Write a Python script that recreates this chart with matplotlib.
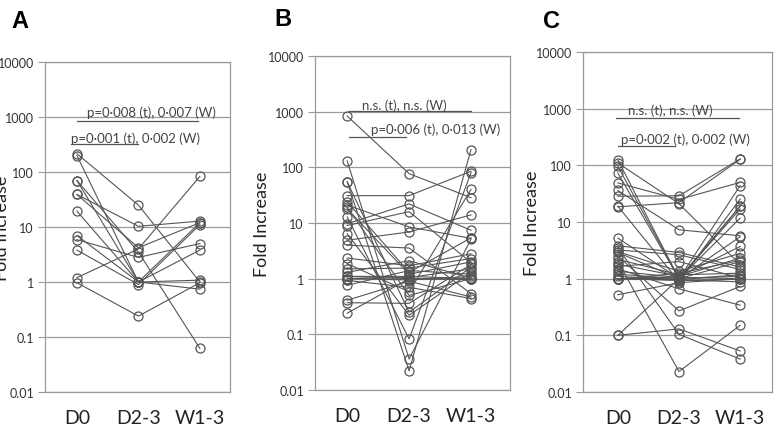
import numpy as np
import matplotlib
matplotlib.use("Agg")
import matplotlib.pyplot as plt

plt.rcParams['font.family'] = ['Lato', 'DejaVu Sans']

categories = ['D0', 'D2-3', 'W1-3']
yticks = [0.01, 0.1, 1, 10, 100, 1000, 10000]
ytick_labels = ['0.01', '0.1', '1', '10', '100', '1000', '10000']

# panel A: one row per subject -> D0, D2-3, W1-3
a_d0 = [215, 198, 70, 70, 39, 39, 19.4, 7.0, 5.9, 3.8, 1.2, 0.97]
a_d23 = [25, 1.0, 1.0, 3.5, 10.3, 4.2, 1.0, 1.0, 2.8, 0.9, 4.0, 0.24]
a_w13 = [1.0, 12, 1.08, 0.062, 12.8, 12, 3.8, 0.74, 5.0, 11, 83, 0.97]

# panel B
b_d0 = [835, 130, 55, 55, 31, 24, 21, 19, 18, 12.8, 9.7, 9, 6.4, 4.9,
        4.0, 2.35, 1.86, 1.5, 1.3, 1.1, 1.1, 1.0, 1.0, 0.93, 0.76, 0.41, 0.37, 0.24]
b_d23 = [77, 0.036, 0.022, 0.25, 31, 1.3, 8.5, 0.5, 1.2, 0.083, 22, 16, 0.22, 6.9,
         3.55, 1.7, 0.58, 1.55, 2.1, 1.1, 1.0, 1.05, 0.95, 0.7, 1.4, 0.9, 0.36, 1.0]
b_w13 = [28.5, 5.1, 208, 1.6, 85, 5.4, 5.3, 1.0, 2.0, 80, 7.4, 1.95, 1.3, 14,
         0.54, 2.8, 40, 2.3, 1.03, 1.0, 0.97, 1.5, 1.1, 0.44, 1.2, 0.47, 1.8, 0.98]

# panel C
c_d0 = [125, 110, 96, 73, 49, 36, 28.5, 19, 18.5, 5.2, 3.8, 3.2, 3.0, 2.9, 2.5, 2.2,
        2.0, 1.8, 1.65, 1.5, 1.35, 1.2, 1.1, 1.0, 1.0, 1.0, 1.0, 0.98, 0.52, 0.1, 0.1, 3.5]
c_d23 = [1.0, 21, 1.0, 1.0, 25, 7.3, 29, 0.89, 22, 1.0, 2.9, 2.65, 1.35, 1.0, 0.27, 1.17,
         0.023, 1.1, 2.0, 0.66, 1.05, 1.0, 0.96, 1.02, 0.93, 1.08, 0.95, 1.25, 0.85, 0.13, 1.0, 0.104]
c_w13 = [17, 1.77, 44, 5.5, 50, 5.7, 130, 25.5, 128, 19, 1.6, 1.45, 2.8, 11.7, 0.73, 1.25,
         0.15, 2.3, 1.03, 0.34, 1.0, 2.0, 1.18, 1.1, 0.98, 3.7, 0.88, 2.1, 1.0, 0.053, 19, 0.038]

# annotation texts / bar positions (x0, x1, y) and text (x, y)
a_notes = [('p=0·008 (t), 0·007 (W)', (0, 1.97, 850), (1.21, 1230)),
           ('p=0·001 (t), 0·002 (W)', (-0.1, 1.0, 325), (0.95, 420))]
b_notes = [('n.s. (t), n.s. (W)', (0.03, 2.0, 1040), (0.92, 1330)),
           ('p=0·006 (t), 0·013 (W)', (0.03, 0.95, 357), (1.43, 500))]
c_notes = [('n.s. (t), n.s. (W)', (-0.03, 1.98, 695), (0.85, 960)),
           ('p=0·002 (t), 0·002 (W)', (0.0, 0.93, 215), (1.11, 297))]

W, H = 778, 431
fig = plt.figure(figsize=(W / 100, H / 100), dpi=100)


def px_axes(left, top, right, bottom):
    return fig.add_axes([left / W, 1 - bottom / H, (right - left) / W, (bottom - top) / H])


panels = [
    ('A', px_axes(45, 63, 230, 393), (-0.52, 2.49), a_d0, a_d23, a_w13, a_notes, (20, 22), -0.19),
    ('B', px_axes(315, 57, 510, 391), (-0.52, 2.63), b_d0, b_d23, b_w13, b_notes, (283, 20), -0.23),
    ('C', px_axes(583, 53, 772, 393), (-0.57, 2.52), c_d0, c_d23, c_w13, c_notes, (551, 21), -0.228),
]

line_col = '#555555'
grid_col = '#9a9a9a'
x = np.arange(len(categories))

for letter, ax, xlim, d0, d23, w13, notes, lpos, ylab_x in panels:
    ax.set_yscale('log')
    ax.set_ylim(0.01, 10000)
    ax.set_xlim(*xlim)
    for v in zip(d0, d23, w13):
        ax.plot(x, v, color=line_col, lw=0.8, marker='o', ms=6.5,
                mfc='none', mec=line_col, mew=0.9, zorder=3)
    ax.set_yticks(yticks)
    ax.set_yticklabels(ytick_labels)
    ax.yaxis.set_minor_locator(matplotlib.ticker.NullLocator())
    ax.set_xticks(x)
    ax.set_xticklabels(categories)
    ax.tick_params(axis='x', length=0, pad=12, labelsize=14, labelcolor='#222222')
    ax.tick_params(axis='y', length=5, width=0.8, color=grid_col, pad=3,
                   labelsize=9, labelcolor='#333333')
    ax.grid(axis='y', color=grid_col, lw=0.9)
    for s in ax.spines.values():
        s.set_color(grid_col)
        s.set_linewidth(0.9)
    ax.set_ylabel('Fold Increase', fontsize=13, color='#222222')
    ax.yaxis.set_label_coords(ylab_x, 0.5)
    for txt, (x0, x1, yl), (tx, ty) in notes:
        ax.plot([x0, x1], [yl, yl], color=line_col, lw=0.9, zorder=2)
        ax.text(tx, ty, txt, ha='center', va='center', fontsize=9.5, color='#444444')
    fig.text(lpos[0] / W, 1 - lpos[1] / H, letter, ha='center', va='center',
             fontsize=17, fontweight='bold', family='Liberation Sans')

fig.savefig('out.png', dpi=100)
